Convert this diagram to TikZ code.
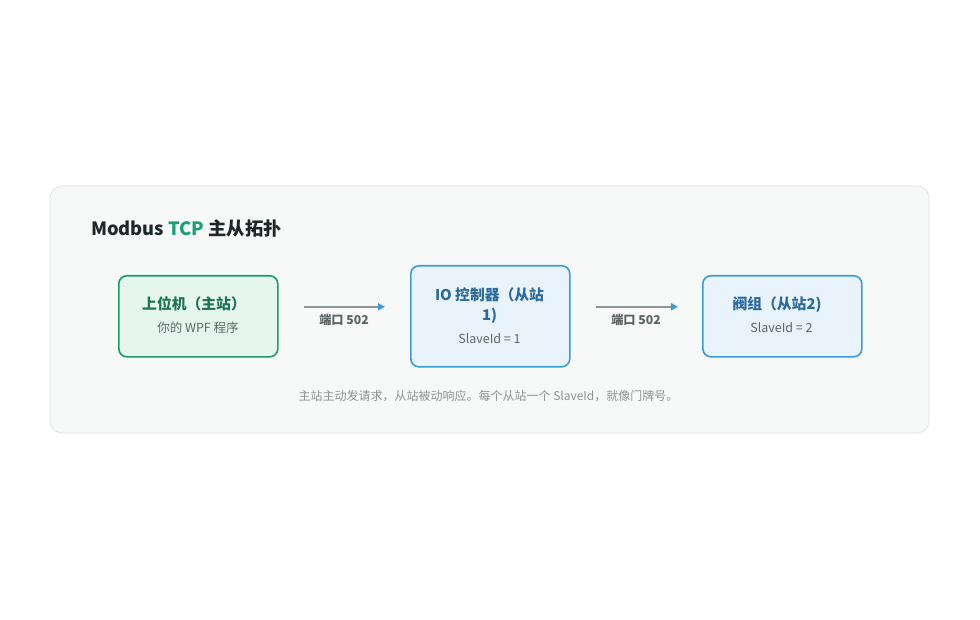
\documentclass[tikz,border=0pt]{standalone}
\usepackage{fontspec}
\setmainfont{Noto Sans CJK SC}
\usetikzlibrary{arrows.meta}
\definecolor{panelfill}{HTML}{F7F9F8}
\definecolor{paneldraw}{HTML}{DFE4E4}
\definecolor{titlec}{HTML}{1E2727}
\definecolor{tcpgreen}{HTML}{17A07A}
\definecolor{gdraw}{HTML}{1C9A6C}
\definecolor{gfill}{HTML}{E6F6EE}
\definecolor{gtext}{HTML}{1D7450}
\definecolor{bdraw}{HTML}{3C9BDA}
\definecolor{bfill}{HTML}{E8F3FC}
\definecolor{btext}{HTML}{2B6A9C}
\definecolor{subc}{HTML}{5E6868}
\definecolor{linec}{HTML}{8A9898}
\definecolor{tipc}{HTML}{3C9BDA}
\definecolor{lblc}{HTML}{5A6262}
\definecolor{capc}{HTML}{8C9494}
\begin{document}
\begin{tikzpicture}[x=1pt,y=-1pt,
  box/.style={rounded corners=8pt,line width=1.6pt,minimum width=159pt,anchor=north west},
  gbox/.style={box,draw=gdraw,fill=gfill,minimum height=81pt},
  bbox/.style={box,draw=bdraw,fill=bfill},
  conn/.style={draw=linec,line width=1.5pt,-{Triangle[length=7pt,width=7pt,color=tipc]}},
  lbl/.style={font=\fontsize{12.2}{14}\selectfont\bfseries,text=lblc}
]
\useasboundingbox (0,0) rectangle (980,620);
\path[fill=white] (0,0) rectangle (980,620);
\draw[draw=paneldraw,fill=panelfill,line width=0.8pt,rounded corners=12pt] (50,186) rectangle (929,433);
\node[anchor=base west,font=\fontsize{18.3}{21}\selectfont\bfseries,text=titlec,inner sep=0pt] (title) at (91,236) {Modbus \textcolor{tcpgreen}{TCP} 主从拓扑};

\node[gbox] (b1) at (118,275) {};
\node[bbox,minimum height=101pt] (b2) at (410,265) {};
\node[bbox,minimum height=81pt] (b3) at (702,275) {};

\node[font=\fontsize{14.8}{17}\selectfont\bfseries,text=gtext,anchor=base] (t1) at (194,310) {上位机（主站）};
\node[font=\fontsize{12.5}{15}\selectfont,text=subc,anchor=base] (s1) at (198,333) {你的 WPF 程序};

\node[font=\fontsize{14.8}{17}\selectfont\bfseries,text=btext,anchor=base] (t2a) at (489.5,301) {IO 控制器（从站};
\node[font=\fontsize{14.8}{17}\selectfont\bfseries,text=btext,anchor=base] (t2b) at (489.5,321) {1)};
\node[font=\fontsize{12.5}{15}\selectfont,text=subc,anchor=base] (s2) at (489.5,344) {SlaveId = 1};

\node[font=\fontsize{14.8}{17}\selectfont\bfseries,text=btext,anchor=base] (t3) at (777,310) {阀组（从站2)};
\node[font=\fontsize{12.5}{15}\selectfont,text=subc,anchor=base] (s3) at (781.5,333) {SlaveId = 2};

\draw[conn,shorten <=25pt,shorten >=25pt] ([yshift=9.5pt]b1.east) -- ([yshift=9.5pt]b2.west);
\draw[conn,shorten <=25pt,shorten >=24pt] ([yshift=9.5pt]b2.east) -- ([yshift=9.5pt]b3.west);
\node[lbl,anchor=base] (l1) at (344,324) {端口 502};
\node[lbl,anchor=base] (l2) at (636,324) {端口 502};

\node[font=\fontsize{12}{14}\selectfont,text=capc,anchor=base] (cap) at (488.5,400) {主站主动发请求，从站被动响应。每个从站一个 SlaveId，就像门牌号。};
\end{tikzpicture}
\end{document}
